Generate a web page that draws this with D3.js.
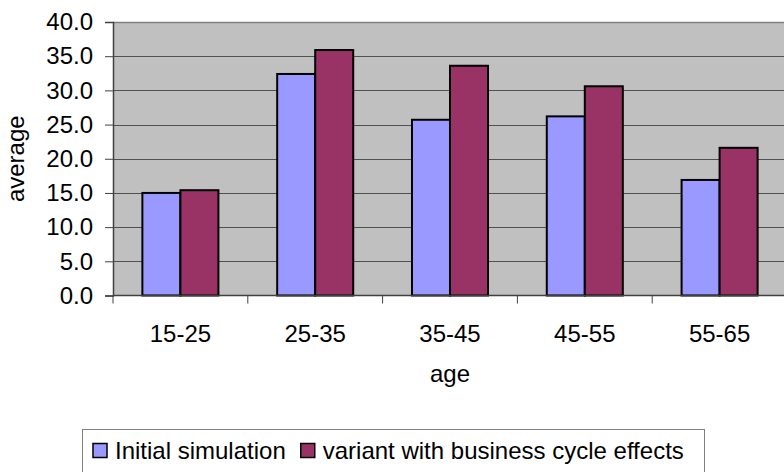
<!DOCTYPE html>
<html lang="en">
<head>
    <meta charset="UTF-8">
    <title>Average by age</title>
    <style>
        body, html {
            margin: 0;
            padding: 0;
            background: #ffffff;
            overflow: hidden;
        }
        svg {
            display: block;
            font-family: 'Liberation Sans', Arial, sans-serif;
        }
        .tick text {
            font-size: 24px;
            fill: #000;
        }
        .label {
            font-size: 24px;
            fill: #000;
        }
    </style>
</head>
<body>
    <div id="chart"></div>

    <script src="https://d3js.org/d3.v7.min.js"></script>
    <script>
        // Data
        const ageGroups = ["15-25", "25-35", "35-45", "45-55", "55-65"];
        const initialSim = [15.0, 32.4, 25.7, 26.2, 16.9];
        const businessCycle = [15.4, 35.9, 33.6, 30.6, 21.6];
        const seriesNames = ["Initial simulation", "variant with business cycle effects"];
        const seriesColors = ["#9999ff", "#993366"];
        const yTicks = [0, 5, 10, 15, 20, 25, 30, 35, 40];

        const width = 784, height = 472;
        // plot area runs past the right edge, as in the original image
        const plot = {left: 113, top: 22, right: 787, bottom: 295.5};

        const svg = d3.select("#chart")
            .append("svg")
            .attr("width", width)
            .attr("height", height);

        const x = d3.scaleBand()
            .domain(ageGroups)
            .range([plot.left, plot.right])
            .paddingInner(0.436)
            .paddingOuter(0.218);

        const xs = d3.scaleBand()
            .domain(seriesNames)
            .range([0, x.bandwidth()]);

        const y = d3.scaleLinear()
            .domain([0, 40])
            .range([plot.bottom, plot.top]);

        // grey plot background
        svg.append("rect")
            .attr("x", plot.left)
            .attr("y", plot.top)
            .attr("width", plot.right - plot.left)
            .attr("height", plot.bottom - plot.top)
            .attr("fill", "#c0c0c0");

        // gridlines
        svg.append("g")
            .selectAll("line")
            .data(yTicks.slice(1))
            .join("line")
            .attr("x1", plot.left)
            .attr("x2", plot.right)
            .attr("y1", d => Math.round(y(d)) + 0.5)
            .attr("y2", d => Math.round(y(d)) + 0.5)
            .attr("stroke", d => d === 40 ? "#808080" : "#505050")
            .attr("stroke-width", d => d === 40 ? 1.5 : 1);

        // bars
        const rows = ageGroups.map((g, i) => ({
            group: g,
            values: [initialSim[i], businessCycle[i]]
        }));

        svg.append("g")
            .selectAll("g")
            .data(rows)
            .join("g")
            .attr("transform", d => `translate(${x(d.group)},0)`)
            .selectAll("rect")
            .data(d => d.values.map((v, j) => ({name: seriesNames[j], value: v, color: seriesColors[j]})))
            .join("rect")
            .attr("x", d => xs(d.name))
            .attr("y", d => y(d.value))
            .attr("width", xs.bandwidth())
            .attr("height", d => y(0) - y(d.value))
            .attr("fill", d => d.color)
            .attr("stroke", "#000")
            .attr("stroke-width", 2);

        // y axis
        const yAxis = svg.append("g")
            .attr("transform", `translate(${plot.left},0)`)
            .call(d3.axisLeft(y).tickValues(yTicks).tickFormat(d3.format(".1f")).tickSize(8).tickPadding(12));
        yAxis.select(".domain").attr("stroke", "#404040").attr("stroke-width", 1.5);
        yAxis.selectAll(".tick line").attr("stroke", "#404040");
        yAxis.selectAll(".tick text").attr("font-family", null).attr("font-size", null);

        // x axis, ticks on the category boundaries
        const xAxis = svg.append("g")
            .attr("transform", `translate(0,${plot.bottom})`);
        xAxis.append("line")
            .attr("x1", plot.left)
            .attr("x2", plot.right)
            .attr("stroke", "#404040")
            .attr("stroke-width", 1.5);
        xAxis.selectAll(".xtick")
            .data(ageGroups)
            .join("line")
            .attr("class", "xtick")
            .attr("x1", d => x(d) - x.step() * x.paddingInner() / 2)
            .attr("x2", d => x(d) - x.step() * x.paddingInner() / 2)
            .attr("y1", 0)
            .attr("y2", 8)
            .attr("stroke", "#404040");
        xAxis.selectAll(".xlab")
            .data(ageGroups)
            .join("text")
            .attr("class", "label")
            .attr("x", d => x(d) + x.bandwidth() / 2)
            .attr("y", 46)
            .attr("text-anchor", "middle")
            .text(d => d);

        // axis titles
        svg.append("text")
            .attr("class", "label")
            .attr("x", (plot.left + plot.right) / 2)
            .attr("y", 382)
            .attr("text-anchor", "middle")
            .text("age");

        svg.append("text")
            .attr("class", "label")
            .attr("transform", `translate(24,${(plot.top + plot.bottom) / 2}) rotate(-90)`)
            .attr("text-anchor", "middle")
            .text("average");

        // legend
        const legend = svg.append("g");
        legend.append("rect")
            .attr("x", 82.5)
            .attr("y", 429.5)
            .attr("width", 622)
            .attr("height", 80)
            .attr("fill", "#fff")
            .attr("stroke", "#808080");

        let lx = 93;
        seriesNames.forEach((name, i) => {
            legend.append("rect")
                .attr("x", lx)
                .attr("y", 443.5)
                .attr("width", 14)
                .attr("height", 14)
                .attr("fill", seriesColors[i])
                .attr("stroke", "#000")
                .attr("stroke-width", 1.5);
            const t = legend.append("text")
                .attr("class", "label")
                .attr("x", lx + 22)
                .attr("y", 459)
                .text(name);
            lx += 22 + t.node().getComputedTextLength() + 15;
        });
    </script>
</body>
</html>
